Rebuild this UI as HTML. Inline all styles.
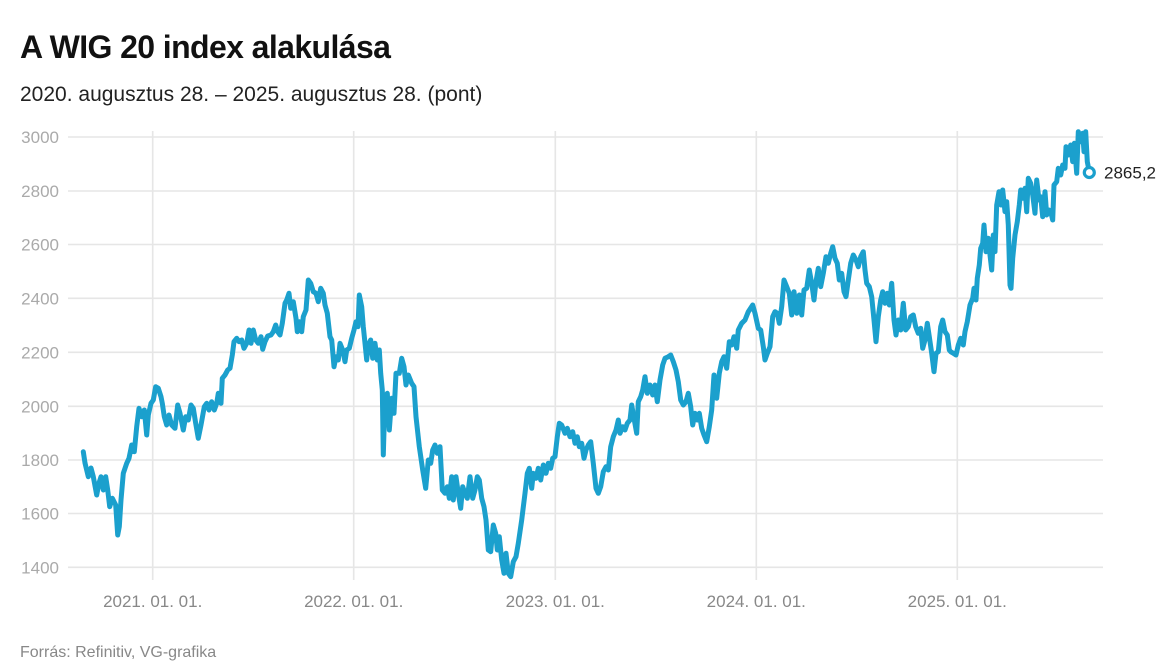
<!DOCTYPE html>
<html><head><meta charset="utf-8"><style>
html,body{margin:0;padding:0;background:#fff;}
body{width:1164px;height:669px;overflow:hidden;position:relative;font-family:"Liberation Sans",Arial,sans-serif;}
</style></head><body>
<svg width="1164" height="669" viewBox="0 0 1164 669" xmlns="http://www.w3.org/2000/svg" style="position:absolute;left:0;top:0">
<text x="20" y="58" font-family="Liberation Sans, Arial, sans-serif" font-weight="bold" font-size="32" letter-spacing="-0.6" fill="#111">A WIG 20 index alakulása</text>
<text x="20" y="101" font-family="Liberation Sans, Arial, sans-serif" font-size="21" fill="#222">2020. augusztus 28. – 2025. augusztus 28. (pont)</text>
<g stroke="#e6e6e6" stroke-width="1.6">
<line x1="68" y1="137" x2="1103" y2="137"/>
<line x1="68" y1="191" x2="1103" y2="191"/>
<line x1="68" y1="244.5" x2="1103" y2="244.5"/>
<line x1="68" y1="298.3" x2="1103" y2="298.3"/>
<line x1="68" y1="352.3" x2="1103" y2="352.3"/>
<line x1="68" y1="406.3" x2="1103" y2="406.3"/>
<line x1="68" y1="460" x2="1103" y2="460"/>
<line x1="68" y1="513.5" x2="1103" y2="513.5"/>
<line x1="68" y1="567.3" x2="1103" y2="567.3"/>
<line x1="152.7" y1="131" x2="152.7" y2="580"/>
<line x1="353.7" y1="131" x2="353.7" y2="580"/>
<line x1="555.3" y1="131" x2="555.3" y2="580"/>
<line x1="756.3" y1="131" x2="756.3" y2="580"/>
<line x1="957.3" y1="131" x2="957.3" y2="580"/>
</g>
<g font-family="Liberation Sans, Arial, sans-serif" font-size="17" fill="#aaa" text-anchor="end">
<text x="59" y="143">3000</text>
<text x="59" y="197">2800</text>
<text x="59" y="250.5">2600</text>
<text x="59" y="304.3">2400</text>
<text x="59" y="358.3">2200</text>
<text x="59" y="412.3">2000</text>
<text x="59" y="466">1800</text>
<text x="59" y="519.5">1600</text>
<text x="59" y="573.3">1400</text>
</g>
<g font-family="Liberation Sans, Arial, sans-serif" font-size="17" fill="#888" text-anchor="middle">
<text x="152.7" y="607">2021. 01. 01.</text>
<text x="353.7" y="607">2022. 01. 01.</text>
<text x="555.3" y="607">2023. 01. 01.</text>
<text x="756.3" y="607">2024. 01. 01.</text>
<text x="957.3" y="607">2025. 01. 01.</text>
</g>
<polyline fill="none" stroke="#1ba0cd" stroke-width="5" stroke-linejoin="round" stroke-linecap="round" points="
83.3,451.7 85,463 88.3,476.7 91,468 93.3,476.7 96.7,495 99,483 101,476.7 103.3,490 105.7,476.7 107.7,490 109.7,506.7 112.3,498.3 115.7,505 117.7,535 119.3,526.7 121,500 123.3,473.3 126.7,463.3 129,458.3 131.7,445 134.3,451.7 136.7,426.7 139,408.3 141.7,416.7 144.3,410 146.7,435 148.3,415 151,403.3 153.3,400 155.7,386.7 158.3,388.3 161,396.7 162.3,403.3 164.3,416.7 166.7,425 169,415 171.7,425 175,428.3 177.7,405 180,413.3 183.3,430 185.7,416.7 188.3,420 191,405 193.3,408.3 195.7,423.3 198.3,438.3 201,425 204.3,406.7 206.7,403.3 209,410 211.7,401.7 214.3,410 216.7,403.3 218.3,393.3 221,403.3 222.3,378.3 225,375 227.7,370 230,368.3 232.3,355 234,341.7 236.7,338.3 239,341.7 241.7,340 244,348.3 246.7,343.3 249,330 251,343.3 253.3,330 255.7,340 258.3,343.3 261,336.7 262.7,349.3 265,341.7 267.7,336 271,335 273.3,331.7 275.7,325 277.7,331.7 280,335 282.3,323.3 285,303.3
286.7,300 289,293.3 290.7,308.3 293.3,301.7 296,318.3 297.3,331.7 299.3,321.7 301.7,331.7 303.3,316.7 306,310 308.3,280 310.7,283.3 313.3,291.7 316,293.3 318.3,301.7 320.7,288.3 323.3,293.3 325,305 327.3,313.3 330,336.7 331.7,340 334,366.7 336,356.7 338.3,360 340,343.3 342.7,350 345,361.7 346.7,350 349.3,348.3 351.7,338.3 354,330 356,321.7 358,326.7 359.3,295 361.7,306.7 363.3,326.7 365,343.3 366.7,360 368.3,345 370.7,340 372.7,358.3 375,343.3 377.3,360 379.3,350 380.7,373.3 382.3,390 383.3,455 385,396.7 387.3,393.3 389.3,430 391.7,398.3 394,413.3 396,373.3 399.3,373.3 401.7,358.3 404,366.7 406,385 408.3,375 411.7,383.3 414,386.7 416,416.7 419.3,446.7 422.7,470 425.7,488.3 428.3,460 430.7,463.3 432.7,450 435,445 437.3,453.3 440,446.7 442.3,490 445,493.3 447.3,486.7 449.3,498.3 451.7,476.7 453.3,500 456,476.7 458.3,493.3 460.7,508.3 462.7,486.7 465,493.3 467.3,498.3 470,476.7 472.7,498.3 475,490 477.3,476.7 479.3,480 481.7,498.3 484,506.7 486,520 488.3,550
490.7,551.7 493.3,525 495.7,533.3 497.3,550 499.3,536.7 501.7,560 504,573.3 506,553.3 508.3,573.3 510.7,576.7 513.3,561.7 516,556.7 518.3,543.3 521.7,520 525,493.3 527.3,473.3 529.3,468.3 531.7,488.3 533.3,473.3 536,478.3 538.3,468.3 540.7,480 543.3,465 546,473.3 548.3,463.3 550.7,468.3 552.7,458.3 555,456.7 557.3,436.7 559.3,423.3 561.7,425 565,433.3 567.3,428.3 570,436.7 572.7,431.7 575,443.3 577.3,436.7 579.3,446.7 581.7,443.3 584,458.3 586,450 588.3,445 590.7,441.7 593.3,463.3 596,488.3 598.3,493.3 600.7,486.7 603.3,471.7 606,466.7 608.3,470 610.7,446.7 613.3,436.7 616,430 618.3,420 620,433.3 622.7,426.7 625,430 627.3,423.3 630,420 631.7,405 634,418.3 636.7,433.3 638.3,401.7 640.7,396.7 642.7,390 645,376.7 647.3,393.3 650,385 652.7,395 655,385 657.3,401.7 660,380 662.7,365 665,358.3 668.3,356.7 670.7,355 673.3,361.7 676,370 678.3,381.7 680.7,400 683.3,405 686,401.7 688.3,393.3 690.7,406.7 692.7,425 695,413.3 697.3,420 699.3,413.3 701.7,428.3 704,435 706.7,441.7 709.3,426.7 711.7,410 714,375 716.7,398.3 719.3,373.3 721.7,361.7 724,356.7 726.7,368.3 729.3,341.7 731.7,345 734,336.7 736.7,348.3 738.3,330
741.7,323.3 745,320 748.3,311.7 752.7,305 755,313.3 758.3,328.3 760.7,330 763.3,346.7 765,360 767.3,353.3 770,346.7 772.7,316.7 775,311.7 777.3,313.3 779.3,323.3 781.7,306.7 784,280 786.7,286.7 789.3,293.3 791.7,315 794,291.7 796.7,313.3 799.3,295 801.7,315 804,290 806.7,288.3 809.3,270 811.7,283.3 814,300 816,281.7 818.3,268.3 820.7,286.7 823.3,273.3 826,256.7 828.3,263.3 830.7,253.3 832.7,246.7 835,258.3 837.3,263.3 839.3,280 841.7,273.3 844,291.7 846,296.7 848.3,280 850.7,263.3 853.3,255 856,260 858.3,266.7 860.7,256.7 863.3,251.7 865,270 866.7,283.3 869.3,286.7 871.7,296.7 874,320 876,341.7 878.3,316.7 880.7,300 882.7,291.7 885,303.3 887.3,293.3 889.3,305 891.7,283.3 894,320 896,335 898.3,320 900.7,330 903.3,303.3 905.7,330 908.3,326.7 910.7,316.7 913.3,315 915.7,326.7 918.3,333.3 920.7,328.3 922.7,348.3 925,340 927.3,323.3 929.3,336.7 931.7,353.3 934,371.7 936,353.3 938.3,351.7 940.7,326.7 942.7,320 945,331.7 947.3,335 949.3,350
950.7,351.7 953.3,353.3 956,355 958.3,345 960.7,338.3 963.3,345 965,331.7 967.3,321.7 970,305 972.7,298.3 974,288.3 976,300 977.3,278.3 979.3,265 980.7,248.3 982.7,243.3 984,225 986,251.7 988.3,238.3 990,255 991.7,270 993.3,235 995,251.7 996.7,205 999,191.7 1001,205 1002.7,190 1005,211.7 1006.7,201.7 1008.3,225 1010,285 1011,288.3 1012.7,258.3 1015,235 1017.3,221.7 1019.3,205 1020.7,190 1022.7,198.3 1025,188.3 1026.7,211.7 1028.3,178.3 1030.7,183.3 1032.7,195 1035,213.3 1036.7,180 1039,200 1040.7,196.7 1042.7,216.7 1045,191.7 1046.7,215 1049,210 1050.7,211.7 1052.7,220 1054,185 1056.7,181.7 1058.3,168.3 1060.7,175 1062.7,165 1065,168.3 1066,146.7 1068.3,155 1070.7,145 1072.7,161.7 1074.3,143.3 1076.7,173.3 1078.3,131.7 1080.7,141.7 1082.7,133.3 1084,151.7 1085.7,131.7 1087.3,161.7 1089.3,171.7"/>
<circle cx="1089.3" cy="172.5" r="5" fill="#fff" stroke="#1ba0cd" stroke-width="3.2"/>
<text x="1104" y="178.5" font-family="Liberation Sans, Arial, sans-serif" font-size="17" fill="#222">2865,2</text>
<text x="20" y="657" font-family="Liberation Sans, Arial, sans-serif" font-size="16" fill="#888">Forrás: Refinitiv, VG-grafika</text>
</svg>
</body></html>
